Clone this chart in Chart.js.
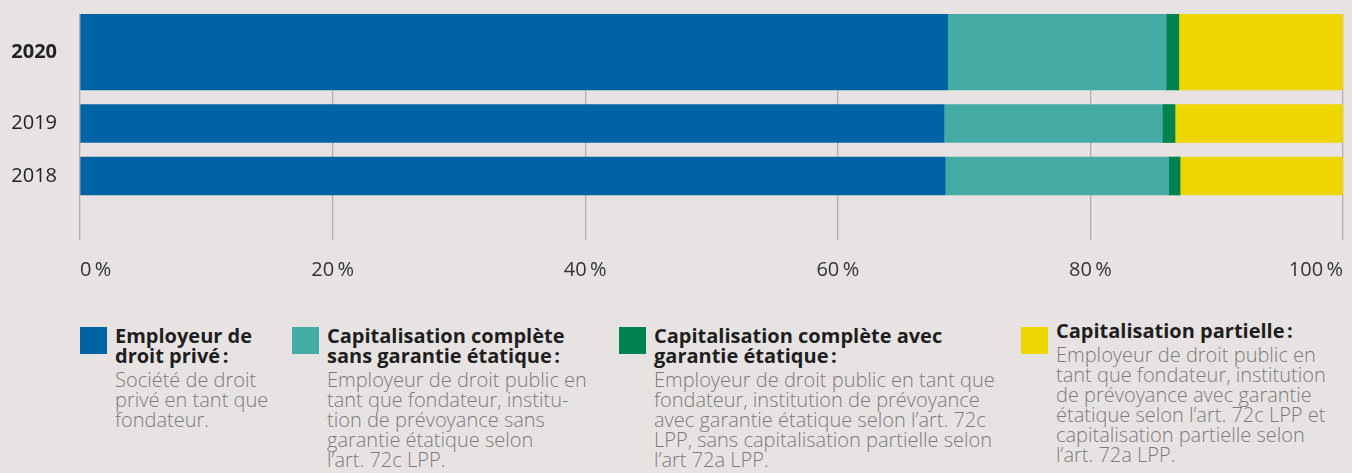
<!DOCTYPE html>
<html>
<head>
<meta charset="utf-8">
<script src="https://cdn.jsdelivr.net/npm/chart.js@4/dist/chart.umd.min.js"></script>
<style>
  html, body { margin: 0; padding: 0; background: #e8e3e3; width: 1352px; height: 473px; overflow: hidden; font-family: 'Open Sans', sans-serif; }
  #chartBox { position: relative; width: 1352px; height: 300px; }
  #legend { display: flex; margin: 27px 0 0 80px; }
  .item { display: flex; align-items: flex-start; flex: none; }
  .sw { width: 27px; height: 27px; flex: none; margin-right: 8px; }
  .title { font-weight: 700; font-size: 20px; line-height: 20px; color: #1e1e1e; white-space: pre; }
  .desc { font-weight: 300; font-size: 20px; line-height: 20px; color: #7b7b7b; white-space: pre; margin-top: 4px; }
</style>
</head>
<body>
<div id="chartBox"><canvas id="chart"></canvas></div>
<div id="legend"></div>
<script>
// Shares of pension institutions by legal form, per year
const YEARS = ['2020', '2019', '2018'];
const PRIVATE_EMPLOYER = [68.7, 68.4, 68.5];
const FULL_NO_GUARANTEE = [17.3, 17.3, 17.7];
const FULL_WITH_GUARANTEE = [1.0, 1.0, 0.9];
const PARTIAL_FUNDING = [13.0, 13.3, 12.9];
const X_TICKS = [0, 20, 40, 60, 80, 100];

const SERIES_TITLES = [
  'Employeur de\ndroit privé\u202F:',
  'Capitalisation complète\nsans garantie étatique\u202F:',
  'Capitalisation complète avec\ngarantie étatique\u202F:',
  'Capitalisation partielle\u202F:'
];
const SERIES_NOTES = [
  'Société de droit\nprivé en tant que\nfondateur.',
  'Employeur de droit public en\ntant que fondateur, institu-\ntion de prévoyance sans\ngarantie étatique selon\nl’art. 72c LPP.',
  'Employeur de droit public en tant que\nfondateur, institution de prévoyance\navec garantie étatique selon l’art. 72c\nLPP, sans capitalisation partielle selon\nl’art 72a LPP.',
  'Employeur de droit public en\ntant que fondateur, institution\nde prévoyance avec garantie\nétatique selon l’art. 72c LPP et\ncapitalisation partielle selon\nl’art. 72a LPP.'
];
const SERIES_COLORS = ['#0063a3', '#45aca5', '#008351', '#eed600'];

// Row layout: the latest year is drawn twice as thick
const ROW_WEIGHT = [2, 1, 1];
const BAR_PX = 38;
const ROW_GAP = 14.5;

// Category scale whose rows have individual thicknesses
class RowScale extends Chart.CategoryScale {
  getPixelForValue(value) {
    const idx = typeof value === 'number' ? value : this.parse(value);
    if (idx === null || isNaN(idx)) return NaN;
    let y = this.top;
    for (let i = 0; i < idx; i++) y += BAR_PX * ROW_WEIGHT[i] + ROW_GAP;
    return y + BAR_PX * ROW_WEIGHT[idx] / 2;
  }
}
RowScale.id = 'rows';
RowScale.defaults = Chart.CategoryScale.defaults;
Chart.register(RowScale);

const rowThickness = {
  id: 'rowThickness',
  afterDatasetsUpdate(chart) {
    chart.data.datasets.forEach((ds, i) => {
      chart.getDatasetMeta(i).data.forEach((bar, j) => {
        bar.height = BAR_PX * ROW_WEIGHT[j];
      });
    });
  }
};

const seriesValues = [PRIVATE_EMPLOYER, FULL_NO_GUARANTEE, FULL_WITH_GUARANTEE, PARTIAL_FUNDING];

const chart = new Chart(document.getElementById('chart'), {
  type: 'bar',
  data: {
    labels: YEARS,
    datasets: seriesValues.map((vals, i) => ({
      label: SERIES_TITLES[i].replace('\n', ' '),
      data: vals,
      backgroundColor: SERIES_COLORS[i],
      borderWidth: 0,
      barThickness: BAR_PX
    }))
  },
  options: {
    indexAxis: 'y',
    responsive: true,
    maintainAspectRatio: false,
    animation: false,
    events: [],
    layout: { padding: { top: 14, right: 9, left: 0, bottom: 0 } },
    plugins: { legend: { display: false }, tooltip: { enabled: false } },
    scales: {
      x: {
        type: 'linear',
        stacked: true,
        min: X_TICKS[0],
        max: X_TICKS[X_TICKS.length - 1],
        afterBuildTicks: s => { s.ticks = X_TICKS.map(v => ({ value: v })); },
        afterFit: s => { s.height = 60; s.paddingLeft = 0; s.paddingRight = 0; },
        border: { display: false },
        grid: { color: '#b3afaf', lineWidth: 1.3, drawTicks: false },
        ticks: {
          align: 'inner',
          padding: 18,
          color: '#333333',
          font: { family: "'Open Sans', sans-serif", size: 20 },
          callback: v => v + '\u2009%'
        }
      },
      y: {
        type: 'rows',
        stacked: true,
        afterFit: s => { s.width = 80; s.paddingTop = 0; s.paddingBottom = 0; },
        border: { display: false },
        grid: { display: false, drawTicks: false },
        ticks: {
          padding: 23,
          color: '#222222',
          font: ctx => ({ family: "'Open Sans', sans-serif", size: 20, weight: ctx.index === 0 ? 'bold' : 'normal' })
        }
      }
    }
  },
  plugins: [rowThickness]
});

// Legend with title and explanation for each series
const legendEl = document.getElementById('legend');
const COLUMN_WIDTHS = [212, 327, 402, 250];
const COLUMN_SHIFT = [0, 0, 0, -5];
chart.data.datasets.forEach((ds, i) => {
  const item = document.createElement('div');
  item.className = 'item';
  item.style.width = COLUMN_WIDTHS[i] + 'px';
  const sw = document.createElement('div');
  sw.className = 'sw';
  sw.style.background = ds.backgroundColor;
  const txt = document.createElement('div');
  txt.style.marginTop = (COLUMN_SHIFT[i] - 1) + 'px';
  const t = document.createElement('div');
  t.className = 'title';
  t.textContent = SERIES_TITLES[i];
  const d = document.createElement('div');
  d.className = 'desc';
  d.textContent = SERIES_NOTES[i];
  txt.appendChild(t);
  txt.appendChild(d);
  item.appendChild(sw);
  item.appendChild(txt);
  legendEl.appendChild(item);
});
</script>
</body>
</html>
